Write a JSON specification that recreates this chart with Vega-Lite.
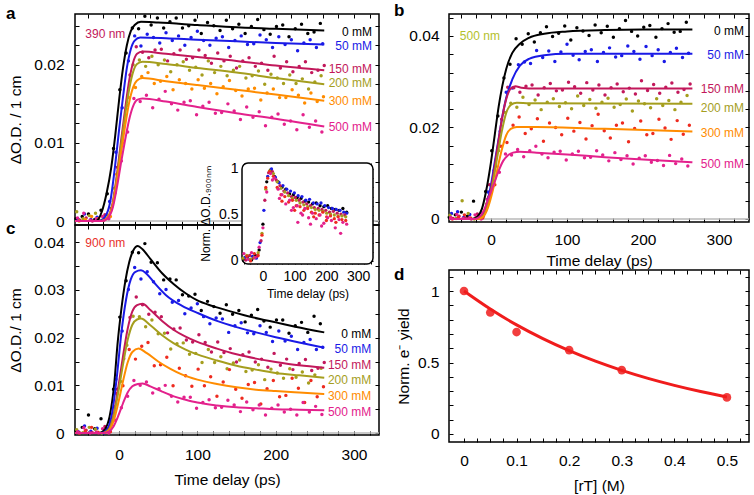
{
"$schema":"https://vega.github.io/schema/vega-lite/v6.json",
"padding":{"left":5,"top":0,"right":0,"bottom":0},
"background":"white",
"datasets":{
"aP":[
{"s":0,"t":-55,"v":0.0003},{"s":0,"t":-47,"v":0.0006},{"s":0,"t":-39,"v":0.0009},{"s":0,"t":-31,"v":0.0002},{"s":0,"t":-23,"v":0.0014},{"s":0,"t":-15,"v":0.0035},{"s":0,"t":-7,"v":0.0093},{"s":0,"t":1,"v":0.0168},{"s":0,"t":9,"v":0.0215},{"s":0,"t":17,"v":0.0247},{"s":0,"t":25,"v":0.0246},{"s":0,"t":33,"v":0.0262},{"s":0,"t":41,"v":0.0251},{"s":0,"t":49,"v":0.026},{"s":0,"t":57,"v":0.0247},{"s":0,"t":65,"v":0.0255},{"s":0,"t":73,"v":0.026},{"s":0,"t":81,"v":0.0247},{"s":0,"t":89,"v":0.025},{"s":0,"t":97,"v":0.0257},{"s":0,"t":105,"v":0.024},{"s":0,"t":113,"v":0.0254},{"s":0,"t":121,"v":0.025},{"s":0,"t":129,"v":0.0244},{"s":0,"t":137,"v":0.0257},{"s":0,"t":145,"v":0.0246},{"s":0,"t":153,"v":0.0252},{"s":0,"t":161,"v":0.024},{"s":0,"t":169,"v":0.0249},{"s":0,"t":177,"v":0.0258},{"s":0,"t":185,"v":0.0245},{"s":0,"t":193,"v":0.0239},{"s":0,"t":201,"v":0.0249},{"s":0,"t":209,"v":0.0251},{"s":0,"t":217,"v":0.0236},{"s":0,"t":225,"v":0.0246},{"s":0,"t":233,"v":0.0252},{"s":0,"t":241,"v":0.024},{"s":0,"t":249,"v":0.0242},{"s":0,"t":257,"v":0.0253},
{"s":50,"t":-52,"v":0.0002},{"s":50,"t":-44,"v":0.0009},{"s":50,"t":-36,"v":0.0002},{"s":50,"t":-28,"v":0.0005},{"s":50,"t":-20,"v":0.0001},{"s":50,"t":-12,"v":0.0025},{"s":50,"t":-4,"v":0.0088},{"s":50,"t":4,"v":0.0145},{"s":50,"t":12,"v":0.0205},{"s":50,"t":20,"v":0.0237},{"s":50,"t":28,"v":0.0224},{"s":50,"t":36,"v":0.0239},{"s":50,"t":44,"v":0.0235},{"s":50,"t":52,"v":0.0228},{"s":50,"t":60,"v":0.0241},{"s":50,"t":68,"v":0.0231},{"s":50,"t":76,"v":0.0237},{"s":50,"t":84,"v":0.0225},{"s":50,"t":92,"v":0.0235},{"s":50,"t":100,"v":0.0243},{"s":50,"t":108,"v":0.0231},{"s":50,"t":116,"v":0.0225},{"s":50,"t":124,"v":0.0234},{"s":50,"t":132,"v":0.0236},{"s":50,"t":140,"v":0.0222},{"s":50,"t":148,"v":0.0231},{"s":50,"t":156,"v":0.0237},{"s":50,"t":164,"v":0.0226},{"s":50,"t":172,"v":0.0227},{"s":50,"t":180,"v":0.0238},{"s":50,"t":188,"v":0.0232},{"s":50,"t":196,"v":0.0222},{"s":50,"t":204,"v":0.0236},{"s":50,"t":212,"v":0.0226},{"s":50,"t":220,"v":0.0232},{"s":50,"t":228,"v":0.0218},{"s":50,"t":236,"v":0.0228},{"s":50,"t":244,"v":0.0232},{"s":50,"t":252,"v":0.0222},{"s":50,"t":260,"v":0.0227},
{"s":150,"t":-50,"v":0.0001},{"s":150,"t":-42,"v":0.0004},{"s":150,"t":-34,"v":0},{"s":150,"t":-26,"v":0.0002},{"s":150,"t":-18,"v":0.0008},{"s":150,"t":-10,"v":0.0016},{"s":150,"t":-2,"v":0.0069},{"s":150,"t":6,"v":0.0121},{"s":150,"t":14,"v":0.0187},{"s":150,"t":22,"v":0.0223},{"s":150,"t":30,"v":0.0216},{"s":150,"t":38,"v":0.0209},{"s":150,"t":46,"v":0.0219},{"s":150,"t":54,"v":0.022},{"s":150,"t":62,"v":0.0205},{"s":150,"t":70,"v":0.0214},{"s":150,"t":78,"v":0.0219},{"s":150,"t":86,"v":0.0207},{"s":150,"t":94,"v":0.0209},{"s":150,"t":102,"v":0.0219},{"s":150,"t":110,"v":0.0212},{"s":150,"t":118,"v":0.0202},{"s":150,"t":126,"v":0.0215},{"s":150,"t":134,"v":0.0205},{"s":150,"t":142,"v":0.0211},{"s":150,"t":150,"v":0.0196},{"s":150,"t":158,"v":0.0205},{"s":150,"t":166,"v":0.0209},{"s":150,"t":174,"v":0.0198},{"s":150,"t":182,"v":0.0202},{"s":150,"t":190,"v":0.0193},{"s":150,"t":198,"v":0.0211},{"s":150,"t":206,"v":0.0196},{"s":150,"t":214,"v":0.0204},{"s":150,"t":222,"v":0.0191},{"s":150,"t":230,"v":0.0198},{"s":150,"t":238,"v":0.0204},{"s":150,"t":246,"v":0.019},{"s":150,"t":254,"v":0.0193},{"s":150,"t":262,"v":0.0199},
{"s":200,"t":-54,"v":0.0012},{"s":200,"t":-46,"v":0.0003},{"s":200,"t":-38,"v":0.0007},{"s":200,"t":-30,"v":0.001},{"s":200,"t":-22,"v":0.0001},{"s":200,"t":-14,"v":0.0007},{"s":200,"t":-6,"v":0.0042},{"s":200,"t":2,"v":0.0088},{"s":200,"t":10,"v":0.0148},{"s":200,"t":18,"v":0.02},{"s":200,"t":26,"v":0.0206},{"s":200,"t":34,"v":0.0198},{"s":200,"t":42,"v":0.0211},{"s":200,"t":50,"v":0.02},{"s":200,"t":58,"v":0.0206},{"s":200,"t":66,"v":0.0191},{"s":200,"t":74,"v":0.02},{"s":200,"t":82,"v":0.0204},{"s":200,"t":90,"v":0.0193},{"s":200,"t":98,"v":0.0197},{"s":200,"t":106,"v":0.0187},{"s":200,"t":114,"v":0.0205},{"s":200,"t":122,"v":0.019},{"s":200,"t":130,"v":0.0198},{"s":200,"t":138,"v":0.0186},{"s":200,"t":146,"v":0.0193},{"s":200,"t":154,"v":0.0198},{"s":200,"t":162,"v":0.0183},{"s":200,"t":170,"v":0.0186},{"s":200,"t":178,"v":0.0192},{"s":200,"t":186,"v":0.0175},{"s":200,"t":194,"v":0.0188},{"s":200,"t":202,"v":0.0183},{"s":200,"t":210,"v":0.0176},{"s":200,"t":218,"v":0.0187},{"s":200,"t":226,"v":0.0176},{"s":200,"t":234,"v":0.0182},{"s":200,"t":242,"v":0.0169},{"s":200,"t":250,"v":0.0178},{"s":200,"t":258,"v":0.0186},
{"s":300,"t":-51,"v":0},{"s":300,"t":-43,"v":0.0002},{"s":300,"t":-35,"v":0.0006},{"s":300,"t":-27,"v":0.0003},{"s":300,"t":-19,"v":0.0002},{"s":300,"t":-11,"v":0.0006},{"s":300,"t":-3,"v":0.006},{"s":300,"t":5,"v":0.01},{"s":300,"t":13,"v":0.0158},{"s":300,"t":21,"v":0.0171},{"s":300,"t":29,"v":0.0185},{"s":300,"t":37,"v":0.019},{"s":300,"t":45,"v":0.0176},{"s":300,"t":53,"v":0.0179},{"s":300,"t":61,"v":0.0185},{"s":300,"t":69,"v":0.0168},{"s":300,"t":77,"v":0.0181},{"s":300,"t":85,"v":0.0176},{"s":300,"t":93,"v":0.0169},{"s":300,"t":101,"v":0.0181},{"s":300,"t":109,"v":0.017},{"s":300,"t":117,"v":0.0176},{"s":300,"t":125,"v":0.0163},{"s":300,"t":133,"v":0.0172},{"s":300,"t":141,"v":0.018},{"s":300,"t":149,"v":0.0167},{"s":300,"t":157,"v":0.016},{"s":300,"t":165,"v":0.0169},{"s":300,"t":173,"v":0.017},{"s":300,"t":181,"v":0.0155},{"s":300,"t":189,"v":0.0164},{"s":300,"t":197,"v":0.0169},{"s":300,"t":205,"v":0.0158},{"s":300,"t":213,"v":0.0158},{"s":300,"t":221,"v":0.0168},{"s":300,"t":229,"v":0.0161},{"s":300,"t":237,"v":0.0151},{"s":300,"t":245,"v":0.0164},{"s":300,"t":253,"v":0.0153},{"s":300,"t":261,"v":0.0159},
{"s":500,"t":-53,"v":0.0004},{"s":500,"t":-45,"v":0.001},{"s":500,"t":-37,"v":0.0001},{"s":500,"t":-29,"v":0.0003},{"s":500,"t":-21,"v":0.0006},{"s":500,"t":-13,"v":0.0003},{"s":500,"t":-5,"v":0.0036},{"s":500,"t":3,"v":0.0077},{"s":500,"t":11,"v":0.0114},{"s":500,"t":19,"v":0.0157},{"s":500,"t":27,"v":0.0153},{"s":500,"t":35,"v":0.0161},{"s":500,"t":43,"v":0.0145},{"s":500,"t":51,"v":0.0156},{"s":500,"t":59,"v":0.0166},{"s":500,"t":67,"v":0.015},{"s":500,"t":75,"v":0.0142},{"s":500,"t":83,"v":0.0152},{"s":500,"t":91,"v":0.0154},{"s":500,"t":99,"v":0.0136},{"s":500,"t":107,"v":0.0147},{"s":500,"t":115,"v":0.0152},{"s":500,"t":123,"v":0.0138},{"s":500,"t":131,"v":0.0139},{"s":500,"t":139,"v":0.015},{"s":500,"t":147,"v":0.0141},{"s":500,"t":155,"v":0.013},{"s":500,"t":163,"v":0.0146},{"s":500,"t":171,"v":0.0133},{"s":500,"t":179,"v":0.014},{"s":500,"t":187,"v":0.0122},{"s":500,"t":195,"v":0.0133},{"s":500,"t":203,"v":0.0137},{"s":500,"t":211,"v":0.0124},{"s":500,"t":219,"v":0.0128},{"s":500,"t":227,"v":0.0117},{"s":500,"t":235,"v":0.0136},{"s":500,"t":243,"v":0.012},{"s":500,"t":251,"v":0.0128},{"s":500,"t":259,"v":0.0114}
],
"bP":[
{"s":0,"t":-55,"v":0.0004},{"s":0,"t":-47,"v":0.0009},{"s":0,"t":-39,"v":0.0015},{"s":0,"t":-31,"v":0.0006},{"s":0,"t":-23,"v":0.0039},{"s":0,"t":-15,"v":0.0005},{"s":0,"t":-7,"v":0.006},{"s":0,"t":1,"v":0.0149},{"s":0,"t":9,"v":0.0225},{"s":0,"t":17,"v":0.0308},{"s":0,"t":25,"v":0.0338},{"s":0,"t":33,"v":0.0394},{"s":0,"t":41,"v":0.0382},{"s":0,"t":49,"v":0.0405},{"s":0,"t":57,"v":0.0387},{"s":0,"t":65,"v":0.0407},{"s":0,"t":73,"v":0.042},{"s":0,"t":81,"v":0.0399},{"s":0,"t":89,"v":0.0406},{"s":0,"t":97,"v":0.0422},{"s":0,"t":105,"v":0.0391},{"s":0,"t":113,"v":0.0418},{"s":0,"t":121,"v":0.0411},{"s":0,"t":129,"v":0.0401},{"s":0,"t":137,"v":0.0424},{"s":0,"t":145,"v":0.0407},{"s":0,"t":153,"v":0.0421},{"s":0,"t":161,"v":0.0397},{"s":0,"t":169,"v":0.0416},{"s":0,"t":177,"v":0.0434},{"s":0,"t":185,"v":0.041},{"s":0,"t":193,"v":0.04},{"s":0,"t":201,"v":0.0419},{"s":0,"t":209,"v":0.0423},{"s":0,"t":217,"v":0.0397},{"s":0,"t":225,"v":0.0416},{"s":0,"t":233,"v":0.0427},{"s":0,"t":241,"v":0.0408},{"s":0,"t":249,"v":0.041},{"s":0,"t":257,"v":0.043},
{"s":50,"t":-52,"v":0.0012},{"s":50,"t":-44,"v":0.0016},{"s":50,"t":-36,"v":0.0003},{"s":50,"t":-28,"v":0.001},{"s":50,"t":-20,"v":0.0002},{"s":50,"t":-12,"v":0.0012},{"s":50,"t":-4,"v":0.0059},{"s":50,"t":4,"v":0.0106},{"s":50,"t":12,"v":0.0192},{"s":50,"t":20,"v":0.0277},{"s":50,"t":28,"v":0.0286},{"s":50,"t":36,"v":0.0337},{"s":50,"t":44,"v":0.0343},{"s":50,"t":52,"v":0.034},{"s":50,"t":60,"v":0.0368},{"s":50,"t":68,"v":0.0353},{"s":50,"t":76,"v":0.0367},{"s":50,"t":84,"v":0.0344},{"s":50,"t":92,"v":0.0365},{"s":50,"t":100,"v":0.0382},{"s":50,"t":108,"v":0.0358},{"s":50,"t":116,"v":0.0348},{"s":50,"t":124,"v":0.0366},{"s":50,"t":132,"v":0.037},{"s":50,"t":140,"v":0.0344},{"s":50,"t":148,"v":0.0364},{"s":50,"t":156,"v":0.0374},{"s":50,"t":164,"v":0.0354},{"s":50,"t":172,"v":0.0357},{"s":50,"t":180,"v":0.0378},{"s":50,"t":188,"v":0.0366},{"s":50,"t":196,"v":0.0349},{"s":50,"t":204,"v":0.0377},{"s":50,"t":212,"v":0.0357},{"s":50,"t":220,"v":0.037},{"s":50,"t":228,"v":0.0344},{"s":50,"t":236,"v":0.0364},{"s":50,"t":244,"v":0.0373},{"s":50,"t":252,"v":0.0353},{"s":50,"t":260,"v":0.0362},
{"s":150,"t":-50,"v":0.0001},{"s":150,"t":-42,"v":0.0006},{"s":150,"t":-34,"v":0.0002},{"s":150,"t":-26,"v":0},{"s":150,"t":-18,"v":0.0011},{"s":150,"t":-10,"v":0.0006},{"s":150,"t":-2,"v":0.0075},{"s":150,"t":6,"v":0.0115},{"s":150,"t":14,"v":0.0218},{"s":150,"t":22,"v":0.0288},{"s":150,"t":30,"v":0.0287},{"s":150,"t":38,"v":0.0277},{"s":150,"t":46,"v":0.029},{"s":150,"t":54,"v":0.0293},{"s":150,"t":62,"v":0.0271},{"s":150,"t":70,"v":0.0287},{"s":150,"t":78,"v":0.0296},{"s":150,"t":86,"v":0.028},{"s":150,"t":94,"v":0.0282},{"s":150,"t":102,"v":0.0299},{"s":150,"t":110,"v":0.0289},{"s":150,"t":118,"v":0.0275},{"s":150,"t":126,"v":0.0298},{"s":150,"t":134,"v":0.0282},{"s":150,"t":142,"v":0.0293},{"s":150,"t":150,"v":0.0271},{"s":150,"t":158,"v":0.0287},{"s":150,"t":166,"v":0.0295},{"s":150,"t":174,"v":0.0278},{"s":150,"t":182,"v":0.0286},{"s":150,"t":190,"v":0.0273},{"s":150,"t":198,"v":0.0302},{"s":150,"t":206,"v":0.0281},{"s":150,"t":214,"v":0.0294},{"s":150,"t":222,"v":0.0275},{"s":150,"t":230,"v":0.0288},{"s":150,"t":238,"v":0.0297},{"s":150,"t":246,"v":0.0277},{"s":150,"t":254,"v":0.0283},{"s":150,"t":262,"v":0.0295},
{"s":200,"t":-54,"v":0.0008},{"s":200,"t":-46,"v":0.0001},{"s":200,"t":-38,"v":0.004},{"s":200,"t":-30,"v":0.0012},{"s":200,"t":-22,"v":0},{"s":200,"t":-14,"v":0.0004},{"s":200,"t":-6,"v":0.0033},{"s":200,"t":2,"v":0.007},{"s":200,"t":10,"v":0.0149},{"s":200,"t":18,"v":0.0233},{"s":200,"t":26,"v":0.0253},{"s":200,"t":34,"v":0.0244},{"s":200,"t":42,"v":0.0266},{"s":200,"t":50,"v":0.025},{"s":200,"t":58,"v":0.026},{"s":200,"t":66,"v":0.0239},{"s":200,"t":74,"v":0.0255},{"s":200,"t":82,"v":0.0263},{"s":200,"t":90,"v":0.0246},{"s":200,"t":98,"v":0.0254},{"s":200,"t":106,"v":0.0241},{"s":200,"t":114,"v":0.0269},{"s":200,"t":122,"v":0.0248},{"s":200,"t":130,"v":0.0261},{"s":200,"t":138,"v":0.0242},{"s":200,"t":146,"v":0.0255},{"s":200,"t":154,"v":0.0264},{"s":200,"t":162,"v":0.0244},{"s":200,"t":170,"v":0.025},{"s":200,"t":178,"v":0.0262},{"s":200,"t":186,"v":0.0236},{"s":200,"t":194,"v":0.0258},{"s":200,"t":202,"v":0.0252},{"s":200,"t":210,"v":0.0243},{"s":200,"t":218,"v":0.0263},{"s":200,"t":226,"v":0.0248},{"s":200,"t":234,"v":0.0259},{"s":200,"t":242,"v":0.0239},{"s":200,"t":250,"v":0.0255},{"s":200,"t":258,"v":0.027},
{"s":300,"t":-51,"v":0},{"s":300,"t":-43,"v":0.0004},{"s":300,"t":-35,"v":0.0009},{"s":300,"t":-27,"v":0.0002},{"s":300,"t":-19,"v":0.0003},{"s":300,"t":-11,"v":0.0002},{"s":300,"t":-3,"v":0.0048},{"s":300,"t":5,"v":0.0075},{"s":300,"t":13,"v":0.0159},{"s":300,"t":21,"v":0.0167},{"s":300,"t":29,"v":0.0205},{"s":300,"t":37,"v":0.0223},{"s":300,"t":45,"v":0.0187},{"s":300,"t":53,"v":0.0197},{"s":300,"t":61,"v":0.0219},{"s":300,"t":69,"v":0.017},{"s":300,"t":77,"v":0.021},{"s":300,"t":85,"v":0.02},{"s":300,"t":93,"v":0.0184},{"s":300,"t":101,"v":0.022},{"s":300,"t":109,"v":0.0192},{"s":300,"t":117,"v":0.0211},{"s":300,"t":125,"v":0.0175},{"s":300,"t":133,"v":0.0204},{"s":300,"t":141,"v":0.0229},{"s":300,"t":149,"v":0.0193},{"s":300,"t":157,"v":0.0177},{"s":300,"t":165,"v":0.0205},{"s":300,"t":173,"v":0.021},{"s":300,"t":181,"v":0.0169},{"s":300,"t":189,"v":0.0198},{"s":300,"t":197,"v":0.0214},{"s":300,"t":205,"v":0.0184},{"s":300,"t":213,"v":0.0187},{"s":300,"t":221,"v":0.0218},{"s":300,"t":229,"v":0.0199},{"s":300,"t":237,"v":0.0174},{"s":300,"t":245,"v":0.0215},{"s":300,"t":253,"v":0.0185},{"s":300,"t":261,"v":0.0205},
{"s":500,"t":-53,"v":0.0003},{"s":500,"t":-45,"v":0.001},{"s":500,"t":-37,"v":0.0001},{"s":500,"t":-29,"v":0.0002},{"s":500,"t":-21,"v":0.0009},{"s":500,"t":-13,"v":0},{"s":500,"t":-5,"v":0.0043},{"s":500,"t":3,"v":0.0073},{"s":500,"t":11,"v":0.0102},{"s":500,"t":19,"v":0.0142},{"s":500,"t":27,"v":0.014},{"s":500,"t":35,"v":0.0152},{"s":500,"t":43,"v":0.0136},{"s":500,"t":51,"v":0.0149},{"s":500,"t":59,"v":0.0159},{"s":500,"t":67,"v":0.0142},{"s":500,"t":75,"v":0.0134},{"s":500,"t":83,"v":0.0146},{"s":500,"t":91,"v":0.0148},{"s":500,"t":99,"v":0.0129},{"s":500,"t":107,"v":0.0142},{"s":500,"t":115,"v":0.0148},{"s":500,"t":123,"v":0.0134},{"s":500,"t":131,"v":0.0135},{"s":500,"t":139,"v":0.0149},{"s":500,"t":147,"v":0.014},{"s":500,"t":155,"v":0.0127},{"s":500,"t":163,"v":0.0145},{"s":500,"t":171,"v":0.013},{"s":500,"t":179,"v":0.0138},{"s":500,"t":187,"v":0.012},{"s":500,"t":195,"v":0.0133},{"s":500,"t":203,"v":0.0138},{"s":500,"t":211,"v":0.0124},{"s":500,"t":219,"v":0.0128},{"s":500,"t":227,"v":0.0117},{"s":500,"t":235,"v":0.0139},{"s":500,"t":243,"v":0.0121},{"s":500,"t":251,"v":0.0131},{"s":500,"t":259,"v":0.0116}
],
"cP":[
{"s":0,"t":-55,"v":0.0005},{"s":0,"t":-47,"v":0.0012},{"s":0,"t":-39,"v":0.0038},{"s":0,"t":-31,"v":0.0009},{"s":0,"t":-23,"v":0.003},{"s":0,"t":-15,"v":0.0008},{"s":0,"t":-7,"v":0.0092},{"s":0,"t":1,"v":0.0243},{"s":0,"t":9,"v":0.0319},{"s":0,"t":17,"v":0.0379},{"s":0,"t":25,"v":0.0378},{"s":0,"t":33,"v":0.0397},{"s":0,"t":41,"v":0.0358},{"s":0,"t":49,"v":0.0357},{"s":0,"t":57,"v":0.0321},{"s":0,"t":65,"v":0.0323},{"s":0,"t":73,"v":0.0321},{"s":0,"t":81,"v":0.029},{"s":0,"t":89,"v":0.0287},{"s":0,"t":97,"v":0.0291},{"s":0,"t":105,"v":0.0257},{"s":0,"t":113,"v":0.0276},{"s":0,"t":121,"v":0.0265},{"s":0,"t":129,"v":0.0251},{"s":0,"t":137,"v":0.0269},{"s":0,"t":145,"v":0.0249},{"s":0,"t":153,"v":0.0257},{"s":0,"t":161,"v":0.0233},{"s":0,"t":169,"v":0.0247},{"s":0,"t":177,"v":0.0259},{"s":0,"t":185,"v":0.0235},{"s":0,"t":193,"v":0.0222},{"s":0,"t":201,"v":0.0237},{"s":0,"t":209,"v":0.0237},{"s":0,"t":217,"v":0.0209},{"s":0,"t":225,"v":0.0225},{"s":0,"t":233,"v":0.0232},{"s":0,"t":241,"v":0.0211},{"s":0,"t":249,"v":0.0245},{"s":0,"t":257,"v":0.0229},
{"s":50,"t":-52,"v":0.0003},{"s":50,"t":-44,"v":0.0015},{"s":50,"t":-36,"v":0.0004},{"s":50,"t":-28,"v":0.001},{"s":50,"t":-20,"v":0},{"s":50,"t":-12,"v":0.0026},{"s":50,"t":-4,"v":0.0113},{"s":50,"t":4,"v":0.0214},{"s":50,"t":12,"v":0.0301},{"s":50,"t":20,"v":0.0347},{"s":50,"t":28,"v":0.0323},{"s":50,"t":36,"v":0.0338},{"s":50,"t":44,"v":0.0317},{"s":50,"t":52,"v":0.0292},{"s":50,"t":60,"v":0.0301},{"s":50,"t":68,"v":0.0274},{"s":50,"t":76,"v":0.0278},{"s":50,"t":84,"v":0.025},{"s":50,"t":92,"v":0.0262},{"s":50,"t":100,"v":0.0271},{"s":50,"t":108,"v":0.0244},{"s":50,"t":116,"v":0.0229},{"s":50,"t":124,"v":0.0241},{"s":50,"t":132,"v":0.0239},{"s":50,"t":140,"v":0.0211},{"s":50,"t":148,"v":0.0225},{"s":50,"t":156,"v":0.0231},{"s":50,"t":164,"v":0.021},{"s":50,"t":172,"v":0.0208},{"s":50,"t":180,"v":0.0225},{"s":50,"t":188,"v":0.0211},{"s":50,"t":196,"v":0.0192},{"s":50,"t":204,"v":0.0214},{"s":50,"t":212,"v":0.0193},{"s":50,"t":220,"v":0.0203},{"s":50,"t":228,"v":0.0175},{"s":50,"t":236,"v":0.019},{"s":50,"t":244,"v":0.0196},{"s":50,"t":252,"v":0.0175},{"s":50,"t":260,"v":0.018},
{"s":150,"t":-50,"v":0},{"s":150,"t":-42,"v":0.0006},{"s":150,"t":-34,"v":0.0001},{"s":150,"t":-26,"v":0},{"s":150,"t":-18,"v":0.0014},{"s":150,"t":-10,"v":0.0017},{"s":150,"t":-2,"v":0.0092},{"s":150,"t":6,"v":0.0156},{"s":150,"t":14,"v":0.0242},{"s":150,"t":22,"v":0.0285},{"s":150,"t":30,"v":0.0269},{"s":150,"t":38,"v":0.0249},{"s":150,"t":46,"v":0.0253},{"s":150,"t":54,"v":0.0244},{"s":150,"t":62,"v":0.021},{"s":150,"t":70,"v":0.0218},{"s":150,"t":78,"v":0.022},{"s":150,"t":86,"v":0.0195},{"s":150,"t":94,"v":0.0191},{"s":150,"t":102,"v":0.0206},{"s":150,"t":110,"v":0.019},{"s":150,"t":118,"v":0.017},{"s":150,"t":126,"v":0.0191},{"s":150,"t":134,"v":0.0169},{"s":150,"t":142,"v":0.0177},{"s":150,"t":150,"v":0.0149},{"s":150,"t":158,"v":0.0164},{"s":150,"t":166,"v":0.017},{"s":150,"t":174,"v":0.0149},{"s":150,"t":182,"v":0.0155},{"s":150,"t":190,"v":0.0138},{"s":150,"t":198,"v":0.0167},{"s":150,"t":206,"v":0.0142},{"s":150,"t":214,"v":0.0155},{"s":150,"t":222,"v":0.0133},{"s":150,"t":230,"v":0.0146},{"s":150,"t":238,"v":0.0154},{"s":150,"t":246,"v":0.0131},{"s":150,"t":254,"v":0.0136},{"s":150,"t":262,"v":0.0148},
{"s":200,"t":-54,"v":0.0007},{"s":200,"t":-46,"v":0.0001},{"s":200,"t":-38,"v":0.0012},{"s":200,"t":-30,"v":0.0008},{"s":200,"t":-22,"v":0},{"s":200,"t":-14,"v":0.0007},{"s":200,"t":-6,"v":0.0055},{"s":200,"t":2,"v":0.0108},{"s":200,"t":10,"v":0.0184},{"s":200,"t":18,"v":0.0245},{"s":200,"t":26,"v":0.0244},{"s":200,"t":34,"v":0.0223},{"s":200,"t":42,"v":0.0237},{"s":200,"t":50,"v":0.0208},{"s":200,"t":58,"v":0.0209},{"s":200,"t":66,"v":0.0176},{"s":200,"t":74,"v":0.0187},{"s":200,"t":82,"v":0.0189},{"s":200,"t":90,"v":0.0165},{"s":200,"t":98,"v":0.0167},{"s":200,"t":106,"v":0.0148},{"s":200,"t":114,"v":0.0175},{"s":200,"t":122,"v":0.0148},{"s":200,"t":130,"v":0.016},{"s":200,"t":138,"v":0.0135},{"s":200,"t":146,"v":0.0147},{"s":200,"t":154,"v":0.0153},{"s":200,"t":162,"v":0.0129},{"s":200,"t":170,"v":0.0132},{"s":200,"t":178,"v":0.0143},{"s":200,"t":186,"v":0.0112},{"s":200,"t":194,"v":0.0134},{"s":200,"t":202,"v":0.0126},{"s":200,"t":210,"v":0.0115},{"s":200,"t":218,"v":0.0135},{"s":200,"t":226,"v":0.0117},{"s":200,"t":234,"v":0.0128},{"s":200,"t":242,"v":0.0105},{"s":200,"t":250,"v":0.0122},{"s":200,"t":258,"v":0.0136},
{"s":300,"t":-51,"v":0},{"s":300,"t":-43,"v":0.0005},{"s":300,"t":-35,"v":0.0012},{"s":300,"t":-27,"v":0.0002},{"s":300,"t":-19,"v":0.0003},{"s":300,"t":-11,"v":0.0003},{"s":300,"t":-3,"v":0.0083},{"s":300,"t":5,"v":0.0099},{"s":300,"t":13,"v":0.0175},{"s":300,"t":21,"v":0.0155},{"s":300,"t":29,"v":0.0182},{"s":300,"t":37,"v":0.019},{"s":300,"t":45,"v":0.0141},{"s":300,"t":53,"v":0.0143},{"s":300,"t":61,"v":0.0159},{"s":300,"t":69,"v":0.0099},{"s":300,"t":77,"v":0.0136},{"s":300,"t":85,"v":0.012},{"s":300,"t":93,"v":0.0098},{"s":300,"t":101,"v":0.0134},{"s":300,"t":109,"v":0.0099},{"s":300,"t":117,"v":0.0118},{"s":300,"t":125,"v":0.0077},{"s":300,"t":133,"v":0.0107},{"s":300,"t":141,"v":0.0133},{"s":300,"t":149,"v":0.0092},{"s":300,"t":157,"v":0.0073},{"s":300,"t":165,"v":0.0102},{"s":300,"t":173,"v":0.0106},{"s":300,"t":181,"v":0.0061},{"s":300,"t":189,"v":0.0093},{"s":300,"t":197,"v":0.011},{"s":300,"t":205,"v":0.0076},{"s":300,"t":213,"v":0.0079},{"s":300,"t":221,"v":0.0115},{"s":300,"t":229,"v":0.0094},{"s":300,"t":237,"v":0.0064},{"s":300,"t":245,"v":0.011},{"s":300,"t":253,"v":0.0076},{"s":300,"t":261,"v":0.0097},
{"s":500,"t":-53,"v":0.0003},{"s":500,"t":-45,"v":0.0011},{"s":500,"t":-37,"v":0},{"s":500,"t":-29,"v":0.0002},{"s":500,"t":-21,"v":0.0009},{"s":500,"t":-13,"v":0},{"s":500,"t":-5,"v":0.0027},{"s":500,"t":3,"v":0.0053},{"s":500,"t":11,"v":0.0077},{"s":500,"t":19,"v":0.011},{"s":500,"t":27,"v":0.01},{"s":500,"t":35,"v":0.0107},{"s":500,"t":43,"v":0.0084},{"s":500,"t":51,"v":0.0093},{"s":500,"t":59,"v":0.01},{"s":500,"t":67,"v":0.0077},{"s":500,"t":75,"v":0.0065},{"s":500,"t":83,"v":0.0075},{"s":500,"t":91,"v":0.0075},{"s":500,"t":99,"v":0.0052},{"s":500,"t":107,"v":0.0064},{"s":500,"t":115,"v":0.007},{"s":500,"t":123,"v":0.0053},{"s":500,"t":131,"v":0.0054},{"s":500,"t":139,"v":0.0069},{"s":500,"t":147,"v":0.0059},{"s":500,"t":155,"v":0.0045},{"s":500,"t":163,"v":0.0065},{"s":500,"t":171,"v":0.0049},{"s":500,"t":179,"v":0.0059},{"s":500,"t":187,"v":0.0038},{"s":500,"t":195,"v":0.0052},{"s":500,"t":203,"v":0.0059},{"s":500,"t":211,"v":0.0044},{"s":500,"t":219,"v":0.005},{"s":500,"t":227,"v":0.0038},{"s":500,"t":235,"v":0.0064},{"s":500,"t":243,"v":0.0044},{"s":500,"t":251,"v":0.0056},{"s":500,"t":259,"v":0.0039}
],
"aL":[
{"s":0,"t":-56,"v":0},{"s":0,"t":-30,"v":0},{"s":0,"t":-26,"v":0.0003},{"s":0,"t":-22,"v":0.0012},{"s":0,"t":-16,"v":0.0035},{"s":0,"t":-10,"v":0.0068},{"s":0,"t":-5,"v":0.0108},{"s":0,"t":0,"v":0.0154},{"s":0,"t":5,"v":0.0195},{"s":0,"t":10,"v":0.0225},{"s":0,"t":15,"v":0.0243},{"s":0,"t":20,"v":0.0251},{"s":0,"t":28,"v":0.0255},{"s":0,"t":50,"v":0.0254},{"s":0,"t":100,"v":0.0251},{"s":0,"t":150,"v":0.0248},{"s":0,"t":200,"v":0.0246},{"s":0,"t":262,"v":0.0244},
{"s":50,"t":-56,"v":0},{"s":50,"t":-25,"v":0},{"s":50,"t":-18,"v":0.0005},{"s":50,"t":-11,"v":0.0026},{"s":50,"t":-5,"v":0.0071},{"s":50,"t":0,"v":0.0116},{"s":50,"t":5,"v":0.0158},{"s":50,"t":10,"v":0.0196},{"s":50,"t":15,"v":0.022},{"s":50,"t":20,"v":0.0231},{"s":50,"t":27,"v":0.0235},{"s":50,"t":60,"v":0.0234},{"s":50,"t":100,"v":0.0232},{"s":50,"t":150,"v":0.023},{"s":50,"t":200,"v":0.0228},{"s":50,"t":262,"v":0.0226},
{"s":150,"t":-56,"v":0},{"s":150,"t":-22,"v":0},{"s":150,"t":-15,"v":0.0004},{"s":150,"t":-8,"v":0.0024},{"s":150,"t":-2,"v":0.0065},{"s":150,"t":3,"v":0.0106},{"s":150,"t":8,"v":0.0145},{"s":150,"t":13,"v":0.018},{"s":150,"t":18,"v":0.0203},{"s":150,"t":23,"v":0.0214},{"s":150,"t":30,"v":0.0217},{"s":150,"t":60,"v":0.0214},{"s":150,"t":100,"v":0.021},{"s":150,"t":150,"v":0.0205},{"s":150,"t":200,"v":0.0199},{"s":150,"t":262,"v":0.0193},
{"s":200,"t":-56,"v":0},{"s":200,"t":-22,"v":0},{"s":200,"t":-15,"v":0.0004},{"s":200,"t":-8,"v":0.0022},{"s":200,"t":-2,"v":0.0061},{"s":200,"t":3,"v":0.01},{"s":200,"t":8,"v":0.0137},{"s":200,"t":13,"v":0.0169},{"s":200,"t":18,"v":0.0191},{"s":200,"t":23,"v":0.0201},{"s":200,"t":30,"v":0.0204},{"s":200,"t":60,"v":0.0201},{"s":200,"t":100,"v":0.0196},{"s":200,"t":150,"v":0.019},{"s":200,"t":200,"v":0.0183},{"s":200,"t":262,"v":0.0175},
{"s":300,"t":-56,"v":0},{"s":300,"t":-22,"v":0},{"s":300,"t":-15,"v":0.0004},{"s":300,"t":-8,"v":0.002},{"s":300,"t":-2,"v":0.0055},{"s":300,"t":3,"v":0.009},{"s":300,"t":8,"v":0.0123},{"s":300,"t":13,"v":0.0152},{"s":300,"t":18,"v":0.0171},{"s":300,"t":23,"v":0.018},{"s":300,"t":30,"v":0.0183},{"s":300,"t":60,"v":0.0179},{"s":300,"t":100,"v":0.0174},{"s":300,"t":150,"v":0.0168},{"s":300,"t":200,"v":0.0162},{"s":300,"t":262,"v":0.0154},
{"s":500,"t":-56,"v":0},{"s":500,"t":-22,"v":0},{"s":500,"t":-15,"v":0.0003},{"s":500,"t":-8,"v":0.0017},{"s":500,"t":-2,"v":0.0047},{"s":500,"t":3,"v":0.0077},{"s":500,"t":8,"v":0.0105},{"s":500,"t":13,"v":0.013},{"s":500,"t":18,"v":0.0147},{"s":500,"t":23,"v":0.0155},{"s":500,"t":30,"v":0.0157},{"s":500,"t":60,"v":0.0153},{"s":500,"t":100,"v":0.0146},{"s":500,"t":150,"v":0.0138},{"s":500,"t":200,"v":0.0131},{"s":500,"t":262,"v":0.0121}
],
"bL":[
{"s":0,"t":-55,"v":0},{"s":0,"t":-25,"v":0},{"s":0,"t":-18,"v":0.0005},{"s":0,"t":-12,"v":0.0022},{"s":0,"t":-6,"v":0.0065},{"s":0,"t":0,"v":0.0125},{"s":0,"t":5,"v":0.0185},{"s":0,"t":10,"v":0.0245},{"s":0,"t":15,"v":0.0292},{"s":0,"t":20,"v":0.0328},{"s":0,"t":28,"v":0.0363},{"s":0,"t":38,"v":0.0383},{"s":0,"t":50,"v":0.0396},{"s":0,"t":70,"v":0.0405},{"s":0,"t":100,"v":0.041},{"s":0,"t":150,"v":0.0413},{"s":0,"t":200,"v":0.0414},{"s":0,"t":265,"v":0.0414},
{"s":50,"t":-55,"v":0},{"s":50,"t":-20,"v":0},{"s":50,"t":-13,"v":0.0006},{"s":50,"t":-6,"v":0.003},{"s":50,"t":0,"v":0.0075},{"s":50,"t":5,"v":0.0125},{"s":50,"t":10,"v":0.0175},{"s":50,"t":15,"v":0.0225},{"s":50,"t":20,"v":0.0265},{"s":50,"t":28,"v":0.0305},{"s":50,"t":38,"v":0.0335},{"s":50,"t":50,"v":0.035},{"s":50,"t":70,"v":0.0358},{"s":50,"t":100,"v":0.0361},{"s":50,"t":265,"v":0.0361},
{"s":150,"t":-55,"v":0},{"s":150,"t":-18,"v":0},{"s":150,"t":-11,"v":0.0006},{"s":150,"t":-4,"v":0.0035},{"s":150,"t":2,"v":0.0085},{"s":150,"t":8,"v":0.015},{"s":150,"t":14,"v":0.0215},{"s":150,"t":20,"v":0.0262},{"s":150,"t":26,"v":0.0285},{"s":150,"t":32,"v":0.029},{"s":150,"t":40,"v":0.0287},{"s":150,"t":60,"v":0.0285},{"s":150,"t":265,"v":0.0285},
{"s":200,"t":-55,"v":0},{"s":200,"t":-18,"v":0},{"s":200,"t":-11,"v":0.0005},{"s":200,"t":-4,"v":0.0031},{"s":200,"t":2,"v":0.0075},{"s":200,"t":8,"v":0.0133},{"s":200,"t":14,"v":0.019},{"s":200,"t":20,"v":0.0232},{"s":200,"t":26,"v":0.0249},{"s":200,"t":34,"v":0.0254},{"s":200,"t":50,"v":0.0253},{"s":200,"t":265,"v":0.0252},
{"s":300,"t":-55,"v":0},{"s":300,"t":-18,"v":0},{"s":300,"t":-11,"v":0.0004},{"s":300,"t":-4,"v":0.0025},{"s":300,"t":2,"v":0.006},{"s":300,"t":8,"v":0.0106},{"s":300,"t":14,"v":0.015},{"s":300,"t":20,"v":0.0183},{"s":300,"t":26,"v":0.0197},{"s":300,"t":34,"v":0.0201},{"s":300,"t":60,"v":0.0201},{"s":300,"t":150,"v":0.0197},{"s":300,"t":265,"v":0.0191},
{"s":500,"t":-55,"v":0},{"s":500,"t":-22,"v":0},{"s":500,"t":-15,"v":0.0005},{"s":500,"t":-10,"v":0.0017},{"s":500,"t":-4,"v":0.0042},{"s":500,"t":0,"v":0.006},{"s":500,"t":5,"v":0.0082},{"s":500,"t":10,"v":0.0105},{"s":500,"t":16,"v":0.0127},{"s":500,"t":22,"v":0.0139},{"s":500,"t":29,"v":0.0145},{"s":500,"t":38,"v":0.0147},{"s":500,"t":60,"v":0.0145},{"s":500,"t":100,"v":0.0141},{"s":500,"t":150,"v":0.0135},{"s":500,"t":200,"v":0.013},{"s":500,"t":265,"v":0.0124}
],
"cL":[
{"s":0,"t":-56,"v":0},{"s":0,"t":-25,"v":0},{"s":0,"t":-18,"v":0.0008},{"s":0,"t":-12,"v":0.0035},{"s":0,"t":-6,"v":0.0105},{"s":0,"t":-2,"v":0.0185},{"s":0,"t":3,"v":0.026},{"s":0,"t":8,"v":0.0318},{"s":0,"t":13,"v":0.0358},{"s":0,"t":18,"v":0.0382},{"s":0,"t":24,"v":0.0392},{"s":0,"t":30,"v":0.0385},{"s":0,"t":40,"v":0.0365},{"s":0,"t":55,"v":0.0335},{"s":0,"t":70,"v":0.0312},{"s":0,"t":85,"v":0.0293},{"s":0,"t":100,"v":0.0278},{"s":0,"t":120,"v":0.0266},{"s":0,"t":140,"v":0.0256},{"s":0,"t":160,"v":0.0247},{"s":0,"t":180,"v":0.0239},{"s":0,"t":200,"v":0.0232},{"s":0,"t":225,"v":0.0223},{"s":0,"t":262,"v":0.0211},
{"s":50,"t":-56,"v":0},{"s":50,"t":-22,"v":0},{"s":50,"t":-15,"v":0.0008},{"s":50,"t":-9,"v":0.004},{"s":50,"t":-3,"v":0.0115},{"s":50,"t":3,"v":0.021},{"s":50,"t":9,"v":0.028},{"s":50,"t":15,"v":0.0322},{"s":50,"t":21,"v":0.0338},{"s":50,"t":28,"v":0.0341},{"s":50,"t":35,"v":0.0334},{"s":50,"t":45,"v":0.0315},{"s":50,"t":60,"v":0.0289},{"s":50,"t":80,"v":0.0267},{"s":50,"t":100,"v":0.0252},{"s":50,"t":125,"v":0.0235},{"s":50,"t":150,"v":0.0222},{"s":50,"t":175,"v":0.0211},{"s":50,"t":200,"v":0.0201},{"s":50,"t":230,"v":0.019},{"s":50,"t":262,"v":0.0179},
{"s":150,"t":-56,"v":0},{"s":150,"t":-20,"v":0},{"s":150,"t":-13,"v":0.0008},{"s":150,"t":-7,"v":0.0038},{"s":150,"t":-1,"v":0.0095},{"s":150,"t":5,"v":0.016},{"s":150,"t":11,"v":0.0218},{"s":150,"t":17,"v":0.0255},{"s":150,"t":23,"v":0.0268},{"s":150,"t":30,"v":0.0271},{"s":150,"t":40,"v":0.0258},{"s":150,"t":55,"v":0.0235},{"s":150,"t":70,"v":0.0216},{"s":150,"t":85,"v":0.0202},{"s":150,"t":100,"v":0.0191},{"s":150,"t":125,"v":0.0177},{"s":150,"t":150,"v":0.0165},{"s":150,"t":175,"v":0.0156},{"s":150,"t":200,"v":0.0149},{"s":150,"t":230,"v":0.0142},{"s":150,"t":262,"v":0.0137},
{"s":200,"t":-56,"v":0},{"s":200,"t":-20,"v":0},{"s":200,"t":-13,"v":0.0007},{"s":200,"t":-7,"v":0.0034},{"s":200,"t":-1,"v":0.0085},{"s":200,"t":5,"v":0.0143},{"s":200,"t":11,"v":0.0195},{"s":200,"t":17,"v":0.0227},{"s":200,"t":23,"v":0.0238},{"s":200,"t":28,"v":0.024},{"s":200,"t":40,"v":0.0226},{"s":200,"t":55,"v":0.0205},{"s":200,"t":70,"v":0.0188},{"s":200,"t":85,"v":0.0175},{"s":200,"t":100,"v":0.0165},{"s":200,"t":125,"v":0.0152},{"s":200,"t":150,"v":0.0141},{"s":200,"t":175,"v":0.0133},{"s":200,"t":200,"v":0.0126},{"s":200,"t":230,"v":0.0121},{"s":200,"t":262,"v":0.0116},
{"s":300,"t":-56,"v":0},{"s":300,"t":-20,"v":0},{"s":300,"t":-13,"v":0.0005},{"s":300,"t":-7,"v":0.0025},{"s":300,"t":-1,"v":0.0063},{"s":300,"t":5,"v":0.0108},{"s":300,"t":11,"v":0.0148},{"s":300,"t":17,"v":0.017},{"s":300,"t":25,"v":0.0177},{"s":300,"t":35,"v":0.0168},{"s":300,"t":50,"v":0.015},{"s":300,"t":65,"v":0.0135},{"s":300,"t":80,"v":0.0123},{"s":300,"t":100,"v":0.0112},{"s":300,"t":125,"v":0.0103},{"s":300,"t":150,"v":0.0096},{"s":300,"t":175,"v":0.0091},{"s":300,"t":200,"v":0.0088},{"s":300,"t":230,"v":0.0085},{"s":300,"t":262,"v":0.0082},
{"s":500,"t":-56,"v":0},{"s":500,"t":-20,"v":0},{"s":500,"t":-13,"v":0.0003},{"s":500,"t":-7,"v":0.0014},{"s":500,"t":-1,"v":0.0036},{"s":500,"t":5,"v":0.0062},{"s":500,"t":11,"v":0.0085},{"s":500,"t":17,"v":0.0098},{"s":500,"t":24,"v":0.0103},{"s":500,"t":30,"v":0.0104},{"s":500,"t":40,"v":0.0098},{"s":500,"t":55,"v":0.0087},{"s":500,"t":70,"v":0.0077},{"s":500,"t":85,"v":0.007},{"s":500,"t":100,"v":0.0064},{"s":500,"t":125,"v":0.0058},{"s":500,"t":150,"v":0.0054},{"s":500,"t":175,"v":0.0052},{"s":500,"t":200,"v":0.005},{"s":500,"t":230,"v":0.0049},{"s":500,"t":262,"v":0.0048}
],
"lab":[
{"p":"a","s":0,"l":"0 mM","v":0.0242},{"p":"a","s":50,"l":"50 mM","v":0.0224},{"p":"a","s":150,"l":"150 mM","v":0.0194},{"p":"a","s":200,"l":"200 mM","v":0.0177},{"p":"a","s":300,"l":"300 mM","v":0.0154},{"p":"a","s":500,"l":"500 mM","v":0.0121},
{"p":"b","s":0,"l":"0 mM","v":0.0411},{"p":"b","s":50,"l":"50 mM","v":0.0358},{"p":"b","s":150,"l":"150 mM","v":0.0284},{"p":"b","s":200,"l":"200 mM","v":0.0243},{"p":"b","s":300,"l":"300 mM","v":0.0188},{"p":"b","s":500,"l":"500 mM","v":0.012},
{"p":"c","s":0,"l":"0 mM","v":0.0208},{"p":"c","s":50,"l":"50 mM","v":0.0177},{"p":"c","s":150,"l":"150 mM","v":0.0143},{"p":"c","s":200,"l":"200 mM","v":0.0112},{"p":"c","s":300,"l":"300 mM","v":0.0078},{"p":"c","s":500,"l":"500 mM","v":0.0044}
],
"iP":[
{"s":0,"t":-60,"v":0.02},{"s":0,"t":-48,"v":0.05},{"s":0,"t":-36,"v":0.01},{"s":0,"t":-24,"v":0.06},{"s":0,"t":-12,"v":0.12},{"s":0,"t":0,"v":0.4},{"s":0,"t":12,"v":0.86},{"s":0,"t":24,"v":0.99},{"s":0,"t":36,"v":0.92},{"s":0,"t":48,"v":0.86},{"s":0,"t":60,"v":0.8},{"s":0,"t":72,"v":0.78},{"s":0,"t":84,"v":0.73},{"s":0,"t":96,"v":0.72},{"s":0,"t":108,"v":0.69},{"s":0,"t":120,"v":0.68},{"s":0,"t":132,"v":0.65},{"s":0,"t":144,"v":0.64},{"s":0,"t":156,"v":0.62},{"s":0,"t":168,"v":0.63},{"s":0,"t":180,"v":0.6},{"s":0,"t":192,"v":0.59},{"s":0,"t":204,"v":0.6},{"s":0,"t":216,"v":0.57},{"s":0,"t":228,"v":0.56},{"s":0,"t":240,"v":0.55},{"s":0,"t":252,"v":0.57},{"s":0,"t":264,"v":0.53},
{"s":50,"t":-57,"v":0.04},{"s":50,"t":-45,"v":0.02},{"s":50,"t":-33,"v":0.05},{"s":50,"t":-21,"v":0.03},{"s":50,"t":-9,"v":0.2},{"s":50,"t":3,"v":0.55},{"s":50,"t":15,"v":0.92},{"s":50,"t":27,"v":1},{"s":50,"t":39,"v":0.91},{"s":50,"t":51,"v":0.85},{"s":50,"t":63,"v":0.82},{"s":50,"t":75,"v":0.78},{"s":50,"t":87,"v":0.76},{"s":50,"t":99,"v":0.74},{"s":50,"t":111,"v":0.71},{"s":50,"t":123,"v":0.7},{"s":50,"t":135,"v":0.66},{"s":50,"t":147,"v":0.67},{"s":50,"t":159,"v":0.63},{"s":50,"t":171,"v":0.62},{"s":50,"t":183,"v":0.63},{"s":50,"t":195,"v":0.6},{"s":50,"t":207,"v":0.58},{"s":50,"t":219,"v":0.57},{"s":50,"t":231,"v":0.56},{"s":50,"t":243,"v":0.55},{"s":50,"t":255,"v":0.53},{"s":50,"t":264,"v":0.52},
{"s":150,"t":-54,"v":0.01},{"s":150,"t":-42,"v":0.06},{"s":150,"t":-30,"v":0.03},{"s":150,"t":-18,"v":0.05},{"s":150,"t":-6,"v":0.22},{"s":150,"t":6,"v":0.66},{"s":150,"t":18,"v":0.96},{"s":150,"t":30,"v":0.97},{"s":150,"t":42,"v":0.88},{"s":150,"t":54,"v":0.82},{"s":150,"t":66,"v":0.76},{"s":150,"t":78,"v":0.74},{"s":150,"t":90,"v":0.7},{"s":150,"t":102,"v":0.69},{"s":150,"t":114,"v":0.66},{"s":150,"t":126,"v":0.64},{"s":150,"t":138,"v":0.62},{"s":150,"t":150,"v":0.6},{"s":150,"t":162,"v":0.58},{"s":150,"t":174,"v":0.57},{"s":150,"t":186,"v":0.56},{"s":150,"t":198,"v":0.55},{"s":150,"t":210,"v":0.53},{"s":150,"t":222,"v":0.54},{"s":150,"t":234,"v":0.52},{"s":150,"t":246,"v":0.51},{"s":150,"t":258,"v":0.5},
{"s":200,"t":-63,"v":0.03},{"s":200,"t":-51,"v":0.06},{"s":200,"t":-39,"v":0.02},{"s":200,"t":-27,"v":0.04},{"s":200,"t":-15,"v":0.09},{"s":200,"t":-3,"v":0.3},{"s":200,"t":9,"v":0.78},{"s":200,"t":21,"v":0.98},{"s":200,"t":33,"v":0.95},{"s":200,"t":45,"v":0.86},{"s":200,"t":57,"v":0.79},{"s":200,"t":69,"v":0.75},{"s":200,"t":81,"v":0.71},{"s":200,"t":93,"v":0.68},{"s":200,"t":105,"v":0.66},{"s":200,"t":117,"v":0.63},{"s":200,"t":129,"v":0.61},{"s":200,"t":141,"v":0.59},{"s":200,"t":153,"v":0.58},{"s":200,"t":165,"v":0.56},{"s":200,"t":177,"v":0.55},{"s":200,"t":189,"v":0.54},{"s":200,"t":201,"v":0.52},{"s":200,"t":213,"v":0.51},{"s":200,"t":225,"v":0.5},{"s":200,"t":237,"v":0.49},{"s":200,"t":249,"v":0.49},{"s":200,"t":261,"v":0.48},
{"s":300,"t":-51,"v":0.05},{"s":300,"t":-39,"v":0},{"s":300,"t":-27,"v":0.08},{"s":300,"t":-15,"v":0.06},{"s":300,"t":-3,"v":0.28},{"s":300,"t":9,"v":0.8},{"s":300,"t":21,"v":0.97},{"s":300,"t":33,"v":0.92},{"s":300,"t":45,"v":0.8},{"s":300,"t":57,"v":0.72},{"s":300,"t":69,"v":0.7},{"s":300,"t":81,"v":0.64},{"s":300,"t":93,"v":0.66},{"s":300,"t":105,"v":0.6},{"s":300,"t":117,"v":0.59},{"s":300,"t":129,"v":0.55},{"s":300,"t":141,"v":0.57},{"s":300,"t":153,"v":0.53},{"s":300,"t":165,"v":0.52},{"s":300,"t":177,"v":0.5},{"s":300,"t":189,"v":0.53},{"s":300,"t":201,"v":0.48},{"s":300,"t":213,"v":0.49},{"s":300,"t":225,"v":0.46},{"s":300,"t":237,"v":0.48},{"s":300,"t":249,"v":0.45},{"s":300,"t":261,"v":0.44},{"s":300,"t":100,"v":0.55},{"s":300,"t":160,"v":0.48},{"s":300,"t":230,"v":0.42},{"s":300,"t":60,"v":0.65},{"s":300,"t":200,"v":0.44},{"s":300,"t":15,"v":0.9},
{"s":500,"t":-60,"v":0.08},{"s":500,"t":-48,"v":0.02},{"s":500,"t":-36,"v":0.09},{"s":500,"t":-24,"v":0.04},{"s":500,"t":-12,"v":0.15},{"s":500,"t":0,"v":0.36},{"s":500,"t":12,"v":0.75},{"s":500,"t":24,"v":0.95},{"s":500,"t":36,"v":0.9},{"s":500,"t":48,"v":0.78},{"s":500,"t":60,"v":0.72},{"s":500,"t":72,"v":0.62},{"s":500,"t":84,"v":0.66},{"s":500,"t":96,"v":0.58},{"s":500,"t":108,"v":0.6},{"s":500,"t":120,"v":0.52},{"s":500,"t":132,"v":0.57},{"s":500,"t":144,"v":0.47},{"s":500,"t":156,"v":0.52},{"s":500,"t":168,"v":0.46},{"s":500,"t":180,"v":0.5},{"s":500,"t":192,"v":0.41},{"s":500,"t":204,"v":0.47},{"s":500,"t":216,"v":0.44},{"s":500,"t":228,"v":0.36},{"s":500,"t":240,"v":0.45},{"s":500,"t":252,"v":0.42},{"s":500,"t":264,"v":0.4},{"s":500,"t":52,"v":0.68},{"s":500,"t":110,"v":0.42},{"s":500,"t":150,"v":0.4},{"s":500,"t":185,"v":0.38},{"s":500,"t":245,"v":0.3},{"s":500,"t":125,"v":0.5},{"s":500,"t":90,"v":0.55},{"s":500,"t":30,"v":0.88}
],
"dP":[{"x":0,"y":1},{"x":0.05,"y":0.85},{"x":0.1,"y":0.713},{"x":0.2,"y":0.587},{"x":0.3,"y":0.447},{"x":0.5,"y":0.256}],
"dL":[{"x":0,"y":1},{"x":0.05,"y":0.874},{"x":0.1,"y":0.763},{"x":0.15,"y":0.667},{"x":0.2,"y":0.583},{"x":0.25,"y":0.509},{"x":0.3,"y":0.445},{"x":0.35,"y":0.389},{"x":0.4,"y":0.34},{"x":0.45,"y":0.297},{"x":0.5,"y":0.259}]
},
"hconcat":[
{"vconcat":[
{"width":304,"height":211,
"title":{"text":"a","dx":-69,"offset":-9},
"layer":[
{"data":{"values":[{}]},"mark":{"type":"rule","color":"#b8b8b8","strokeWidth":1.5},"encoding":{"y":{"datum":0,"type":"quantitative","scale":{"domain":[-0.0005,0.0265],"nice":false,"zero":false},"axis":null}}},
{"data":{"name":"aP"},"mark":{"type":"circle","size":12,"opacity":1},"encoding":{
"x":{"field":"t","type":"quantitative","scale":{"domain":[-56.2,331.9],"nice":false,"zero":false},"axis":{"orient":"top","values":[-40,-20,0,20,40,60,80,100,120,140,160,180,200,220,240,260,280,300,320],"labels":false,"title":null}},
"y":{"field":"v","type":"quantitative","scale":{"domain":[-0.0005,0.0265],"nice":false,"zero":false},"axis":{"orient":"right","values":[0,0.0025,0.005,0.0075,0.01,0.0125,0.015,0.0175,0.02,0.0225,0.025],"labels":false,"title":null}},
"color":{"field":"s","type":"ordinal","scale":{"domain":[0,50,150,200,300,500],"range":["#000000","#1a1ae6","#c2185b","#a59e1e","#ff8c00","#e3218c"]},"legend":null}}},
{"data":{"name":"aL"},"mark":{"type":"line","strokeWidth":2,"interpolate":"monotone"},"encoding":{
"x":{"field":"t","type":"quantitative","scale":{"domain":[-56.2,331.9],"nice":false,"zero":false},"axis":{"orient":"bottom","values":[-40,-20,0,20,40,60,80,100,120,140,160,180,200,220,240,260,280,300,320],"labels":false,"title":null}},
"y":{"field":"v","type":"quantitative","scale":{"domain":[-0.0005,0.0265],"nice":false,"zero":false},"axis":{"orient":"left","values":[0,0.0025,0.005,0.0075,0.01,0.0125,0.015,0.0175,0.02,0.0225,0.025],"labelExpr":"round(datum.value*10000) % 100 == 0 ? format(datum.value, '~g') : ''","title":"ΔO.D. / 1 cm","labelPadding":15,"titlePadding":10}},
"color":{"field":"s","type":"ordinal","scale":{"domain":[0,50,150,200,300,500],"range":["#000000","#1a1ae6","#c2185b","#a59e1e","#ff8c00","#e3218c"]},"legend":null}}},
{"data":{"name":"lab"},"transform":[{"filter":"datum.p == 'a'"}],"mark":{"type":"text","align":"right","baseline":"middle","fontSize":12},"encoding":{
"x":{"datum":323,"type":"quantitative","scale":{"domain":[-56.2,331.9],"nice":false,"zero":false},"axis":null},
"y":{"field":"v","type":"quantitative","scale":{"domain":[-0.0005,0.0265],"nice":false,"zero":false},"axis":null},
"text":{"field":"l"},
"color":{"field":"s","type":"ordinal","scale":{"domain":[0,50,150,200,300,500],"range":["#000000","#1a1ae6","#c2185b","#a59e1e","#ff8c00","#e3218c"]},"legend":null}}},
{"data":{"values":[{}]},"mark":{"type":"text","align":"left","baseline":"middle","fontSize":12,"color":"#c2185b"},"encoding":{
"x":{"datum":-43,"type":"quantitative","scale":{"domain":[-56.2,331.9],"nice":false,"zero":false},"axis":null},
"y":{"datum":0.024,"type":"quantitative","scale":{"domain":[-0.0005,0.0265],"nice":false,"zero":false},"axis":null},
"text":{"value":"390 nm"}}}
],
"resolve":{"scale":{"x":"independent","y":"independent","color":"independent"}}
},
{"width":304,"height":210,
"title":{"text":"c","dx":-69,"offset":-76},
"layer":[
{"data":{"values":[{}]},"mark":{"type":"rule","color":"#b8b8b8","strokeWidth":1.5},"encoding":{"y":{"datum":0,"type":"quantitative","scale":{"domain":[-0.0004,0.0436],"nice":false,"zero":false},"axis":null}}},
{"data":{"name":"cP"},"mark":{"type":"circle","size":12,"opacity":1},"encoding":{
"x":{"field":"t","type":"quantitative","scale":{"domain":[-56.2,331.9],"nice":false,"zero":false},"axis":{"orient":"top","values":[-40,-20,0,20,40,60,80,100,120,140,160,180,200,220,240,260,280,300,320],"labels":false,"title":null}},
"y":{"field":"v","type":"quantitative","scale":{"domain":[-0.0004,0.0436],"nice":false,"zero":false},"axis":{"orient":"right","values":[0,0.005,0.01,0.015,0.02,0.025,0.03,0.035,0.04],"labels":false,"title":null}},
"color":{"field":"s","type":"ordinal","scale":{"domain":[0,50,150,200,300,500],"range":["#000000","#1a1ae6","#c2185b","#a59e1e","#ee2b1f","#e3218c"]},"legend":null}}},
{"data":{"name":"cL"},"mark":{"type":"line","strokeWidth":2,"interpolate":"monotone"},"encoding":{
"x":{"field":"t","type":"quantitative","scale":{"domain":[-56.2,331.9],"nice":false,"zero":false},"axis":{"orient":"bottom","values":[-40,-20,0,20,40,60,80,100,120,140,160,180,200,220,240,260,280,300,320],"labelExpr":"datum.value % 100 == 0 ? format(datum.value, 'd') : ''","title":"Time delay (ps)","labelPadding":16,"titlePadding":10}},
"y":{"field":"v","type":"quantitative","scale":{"domain":[-0.0004,0.0436],"nice":false,"zero":false},"axis":{"orient":"left","values":[0,0.005,0.01,0.015,0.02,0.025,0.03,0.035,0.04],"labelExpr":"round(datum.value*10000) % 100 == 0 ? format(datum.value, '~g') : ''","title":"ΔO.D./ 1 cm","labelPadding":15,"titlePadding":10}},
"color":{"field":"s","type":"ordinal","scale":{"domain":[0,50,150,200,300,500],"range":["#000000","#1a1ae6","#c2185b","#a59e1e","#ff8c00","#e3218c"]},"legend":null}}},
{"data":{"name":"lab"},"transform":[{"filter":"datum.p == 'c'"}],"mark":{"type":"text","align":"right","baseline":"middle","fontSize":12},"encoding":{
"x":{"datum":322,"type":"quantitative","scale":{"domain":[-56.2,331.9],"nice":false,"zero":false},"axis":null},
"y":{"field":"v","type":"quantitative","scale":{"domain":[-0.0004,0.0436],"nice":false,"zero":false},"axis":null},
"text":{"field":"l"},
"color":{"field":"s","type":"ordinal","scale":{"domain":[0,50,150,200,300,500],"range":["#000000","#1a1ae6","#c2185b","#a59e1e","#ff8c00","#e3218c"]},"legend":null}}},
{"data":{"values":[{}]},"mark":{"type":"text","align":"left","baseline":"middle","fontSize":12,"color":"#e8302a"},"encoding":{
"x":{"datum":-43,"type":"quantitative","scale":{"domain":[-56.2,331.9],"nice":false,"zero":false},"axis":null},
"y":{"datum":0.0398,"type":"quantitative","scale":{"domain":[-0.0004,0.0436],"nice":false,"zero":false},"axis":null},
"text":{"value":"900 nm"}}},
{"data":{"values":[{}]},"mark":{"type":"rect","fill":"white","stroke":"black","strokeWidth":1.5,"cornerRadius":6},"encoding":{
"x":{"datum":-66,"type":"quantitative","scale":{"domain":[-66,347],"range":[167,298],"nice":false,"zero":false},"axis":{"orient":"top","offset":62,"values":[-60,-40,-20,0,20,40,60,80,100,120,140,160,180,200,220,240,260,280,300,320,340],"labels":false,"title":null,"tickSize":-3}},
"x2":{"datum":347},
"y":{"datum":-0.033,"type":"quantitative","scale":{"domain":[-0.033,1.065],"range":[39,-62],"nice":false,"zero":false},"axis":{"orient":"right","offset":-6,"values":[0,0.1,0.2,0.3,0.4,0.5,0.6,0.7,0.8,0.9,1],"labels":false,"title":null,"tickSize":-3}},
"y2":{"datum":1.065}}},
{"data":{"name":"iP"},"mark":{"type":"circle","size":11,"opacity":1},"encoding":{
"x":{"field":"t","type":"quantitative","scale":{"domain":[-66,347],"range":[167,298],"nice":false,"zero":false},"axis":{"orient":"bottom","offset":-171,"values":[-60,-40,-20,0,20,40,60,80,100,120,140,160,180,200,220,240,260,280,300,320,340],"labelExpr":"datum.value % 100 == 0 ? format(datum.value, 'd') : ''","title":"Time delay (ps)","tickSize":-3,"labelPadding":8,"titlePadding":5,"labelFontSize":14,"titleFontSize":12}},
"y":{"field":"v","type":"quantitative","scale":{"domain":[-0.033,1.065],"range":[39,-62],"nice":false,"zero":false},"axis":{"orient":"left","offset":-167,"values":[0,0.1,0.2,0.3,0.4,0.5,0.6,0.7,0.8,0.9,1],"labelExpr":"round(datum.value*10) % 5 == 0 ? format(datum.value, '~g') : ''","title":"Norm. ΔO.D.₉₀₀ₙₘ","tickSize":-3,"labelPadding":7,"titlePadding":6,"labelFontSize":14,"titleFontSize":12}},
"color":{"field":"s","type":"ordinal","scale":{"domain":[0,50,150,200,300,500],"range":["#000000","#1a1ae6","#c2185b","#a59e1e","#ee2b1f","#e3218c"]},"legend":null}}}
],
"resolve":{"scale":{"x":"independent","y":"independent","color":"independent"}}
}
],"spacing":0,"bounds":"flush","resolve":{"scale":{"color":"independent"}}},
{"vconcat":[
{"width":300,"height":208,
"title":{"text":"b","dx":-55,"offset":-9},
"layer":[
{"data":{"values":[{}]},"mark":{"type":"rule","color":"#b8b8b8","strokeWidth":1.5},"encoding":{"y":{"datum":0,"type":"quantitative","scale":{"domain":[-0.00066,0.0448],"nice":false,"zero":false},"axis":null}}},
{"data":{"name":"bP"},"mark":{"type":"circle","size":12,"opacity":1},"encoding":{
"x":{"field":"t","type":"quantitative","scale":{"domain":[-55.3,339.5],"nice":false,"zero":false},"axis":{"orient":"top","values":[-40,-20,0,20,40,60,80,100,120,140,160,180,200,220,240,260,280,300,320],"labels":false,"title":null}},
"y":{"field":"v","type":"quantitative","scale":{"domain":[-0.00066,0.0448],"nice":false,"zero":false},"axis":{"orient":"right","values":[0,0.004,0.008,0.012,0.016,0.02,0.024,0.028,0.032,0.036,0.04,0.044],"labels":false,"title":null}},
"color":{"field":"s","type":"ordinal","scale":{"domain":[0,50,150,200,300,500],"range":["#000000","#1a1ae6","#c2185b","#a59e1e","#ee2b1f","#e3218c"]},"legend":null}}},
{"data":{"name":"bL"},"mark":{"type":"line","strokeWidth":2,"interpolate":"monotone"},"encoding":{
"x":{"field":"t","type":"quantitative","scale":{"domain":[-55.3,339.5],"nice":false,"zero":false},"axis":{"orient":"bottom","values":[-40,-20,0,20,40,60,80,100,120,140,160,180,200,220,240,260,280,300,320],"labelExpr":"datum.value % 100 == 0 ? format(datum.value, 'd') : ''","title":"Time delay (ps)","labelPadding":14,"titlePadding":6}},
"y":{"field":"v","type":"quantitative","scale":{"domain":[-0.00066,0.0448],"nice":false,"zero":false},"axis":{"orient":"left","values":[0,0.004,0.008,0.012,0.016,0.02,0.024,0.028,0.032,0.036,0.04,0.044],"labelExpr":"round(datum.value*10000) % 200 == 0 ? format(datum.value, '~g') : ''","title":null,"labelPadding":14}},
"color":{"field":"s","type":"ordinal","scale":{"domain":[0,50,150,200,300,500],"range":["#000000","#1a1ae6","#c2185b","#a59e1e","#ff8c00","#e3218c"]},"legend":null}}},
{"data":{"name":"lab"},"transform":[{"filter":"datum.p == 'b'"}],"mark":{"type":"text","align":"right","baseline":"middle","fontSize":12},"encoding":{
"x":{"datum":333,"type":"quantitative","scale":{"domain":[-55.3,339.5],"nice":false,"zero":false},"axis":null},
"y":{"field":"v","type":"quantitative","scale":{"domain":[-0.00066,0.0448],"nice":false,"zero":false},"axis":null},
"text":{"field":"l"},
"color":{"field":"s","type":"ordinal","scale":{"domain":[0,50,150,200,300,500],"range":["#000000","#1a1ae6","#c2185b","#a59e1e","#ff8c00","#e3218c"]},"legend":null}}},
{"data":{"values":[{}]},"mark":{"type":"text","align":"left","baseline":"middle","fontSize":12,"color":"#b3bf2c"},"encoding":{
"x":{"datum":-41,"type":"quantitative","scale":{"domain":[-55.3,339.5],"nice":false,"zero":false},"axis":null},
"y":{"datum":0.04,"type":"quantitative","scale":{"domain":[-0.00066,0.0448],"nice":false,"zero":false},"axis":null},
"text":{"value":"500 nm"}}}
],
"resolve":{"scale":{"x":"independent","y":"independent","color":"independent"}}
},
{"width":300,"height":172,
"title":{"text":"d","dx":-55,"offset":-14},
"layer":[
{"data":{"name":"dL"},"mark":{"type":"line","strokeWidth":3,"color":"#f01c1c","interpolate":"monotone"},"encoding":{
"x":{"field":"x","type":"quantitative","scale":{"domain":[-0.0285,0.542],"nice":false,"zero":false},"axis":{"orient":"bottom","values":[0,0.025,0.05,0.075,0.1,0.125,0.15,0.175,0.2,0.225,0.25,0.275,0.3,0.325,0.35,0.375,0.4,0.425,0.45,0.475,0.5,0.525],"labelExpr":"round(datum.value*1000) % 100 == 0 ? format(datum.value, '~g') : ''","title":"[rT] (M)","labelPadding":15,"titlePadding":10}},
"y":{"field":"y","type":"quantitative","scale":{"domain":[-0.056,1.147],"nice":false,"zero":false},"axis":{"orient":"left","values":[0,0.1,0.2,0.3,0.4,0.5,0.6,0.7,0.8,0.9,1,1.1],"labelExpr":"round(datum.value*10) % 5 == 0 ? format(datum.value, '~g') : ''","title":"Norm. e⁻ yield","labelPadding":14,"titlePadding":6}}}},
{"data":{"name":"dP"},"mark":{"type":"circle","size":75,"opacity":0.85,"color":"#f01c1c"},"encoding":{
"x":{"field":"x","type":"quantitative","scale":{"domain":[-0.0285,0.542],"nice":false,"zero":false},"axis":{"orient":"top","values":[0,0.025,0.05,0.075,0.1,0.125,0.15,0.175,0.2,0.225,0.25,0.275,0.3,0.325,0.35,0.375,0.4,0.425,0.45,0.475,0.5,0.525],"labels":false,"title":null}},
"y":{"field":"y","type":"quantitative","scale":{"domain":[-0.056,1.147],"nice":false,"zero":false},"axis":{"orient":"right","values":[0,0.1,0.2,0.3,0.4,0.5,0.6,0.7,0.8,0.9,1,1.1],"labels":false,"title":null}}}}
],
"resolve":{"scale":{"x":"independent","y":"independent"}}
}
],"spacing":48,"bounds":"flush","resolve":{"scale":{"color":"independent"}}}
],
"spacing":12,
"resolve":{"scale":{"color":"independent"}},
"config":{
"font":"Liberation Sans",
"view":{"stroke":"black","strokeWidth":1.5},
"title":{"fontSize":17,"fontWeight":"bold","anchor":"start","frame":"group","baseline":"alphabetic","color":"black"},
"axis":{"domain":false,"grid":false,"tickSize":-4,"tickColor":"black","tickWidth":1,"labelFontSize":15.5,"titleFontSize":15.5,"titleFontWeight":"normal","labelColor":"black","titleColor":"black","labelOverlap":false,"labelFlush":false,"zindex":1},
"legend":{"disable":true}
}
}
